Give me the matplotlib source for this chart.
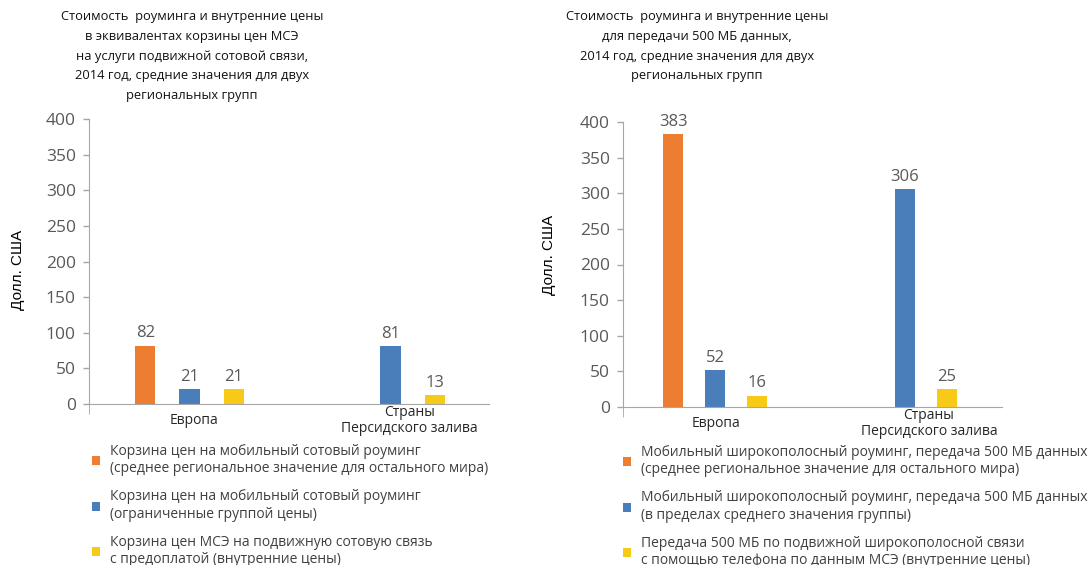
import numpy as np
import matplotlib.pyplot as plt

plt.rcParams['font.family'] = ['Open Sans', 'DejaVu Sans']

groups = ['Европа', 'Страны\nПерсидского залива']

# левый график: корзины цен на сотовую связь
voice_rest = [82, np.nan]
voice_group = [21, 81]
voice_domestic = [21, 13]

# правый график: 500 МБ данных
data_rest = [383, np.nan]
data_group = [52, 306]
data_domestic = [16, 25]

voice_labels = [
    'Корзина цен на мобильный сотовый роуминг\n(среднее региональное значение для остального мира)',
    'Корзина цен на мобильный сотовый роуминг\n(ограниченные группой цены)',
    'Корзина цен МСЭ на подвижную сотовую связь\nс предоплатой (внутренние цены)',
]
data_labels = [
    'Мобильный широкополосный роуминг, передача 500 МБ данных\n(среднее региональное значение для остального мира)',
    'Мобильный широкополосный роуминг, передача 500 МБ данных\n(в пределах среднего значения группы)',
    'Передача 500 МБ по подвижной широкополосной связи\nс помощью телефона по данным МСЭ (внутренние цены)',
]

voice_title = ('Стоимость  роуминга и внутренние цены\nв эквивалентах корзины цен МСЭ\n'
               'на услуги подвижной сотовой связи,\n2014 год, средние значения для двух\nрегиональных групп')
data_title = ('Стоимость  роуминга и внутренние цены\nдля передачи 500 МБ данных,\n'
              '2014 год, средние значения для двух\nрегиональных групп')

colors = ['#ED7D31', '#4A7EBB', '#F7CA18']
axis_gray = '#A6A6A6'
W, H = 1088, 565

fig = plt.figure(figsize=(W / 100, H / 100), dpi=100)


def panel(rect, series, labels, title, title_xy, ylab_xy, xlim, label_shift, leg_xy, width):
    l, t, r, b = rect
    ax = fig.add_axes([l / W, 1 - b / H, (r - l) / W, (b - t) / H])
    x = np.arange(len(groups))
    offs = [-0.22, 0, 0.22]
    for vals, off, c, lab in zip(series, offs, colors, labels):
        ax.bar(x + off, vals, width=width, color=c, label=lab)
        for bx, v in zip(x + off, vals):
            if not np.isnan(v):
                ax.annotate(f'{v:g}', (bx, v), xytext=(0, 3), textcoords='offset points',
                            ha='center', va='bottom', fontsize=12, color='#595959')
    ax.set_ylim(0, 400)
    ax.set_xlim(*xlim)
    ax.set_yticks(range(0, 401, 50))
    ax.tick_params(axis='y', colors=axis_gray, labelcolor='#595959', labelsize=12.5,
                   length=4.5, width=1, pad=5)
    ax.set_xticks(x + np.array(label_shift))
    ax.set_xticklabels(groups, fontsize=10, color='#262626', linespacing=1.1, va='center')
    ax.tick_params(axis='x', length=0, pad=12)
    ax.set_xticks([xlim[0]], minor=True)
    ax.tick_params(axis='x', which='minor', length=7, color=axis_gray)
    for s in ['top', 'right']:
        ax.spines[s].set_visible(False)
    for s in ['left', 'bottom']:
        ax.spines[s].set_color(axis_gray)
    fig.text(title_xy[0] / W, 1 - title_xy[1] / H, title, ha='center', va='top',
             fontsize=9.3, linespacing=1.68, color='#111111')
    fig.text(ylab_xy[0] / W, 1 - ylab_xy[1] / H, 'Долл. США', rotation=90,
             ha='center', va='center', fontsize=11, family=['Liberation Sans', 'DejaVu Sans'])
    ax.legend(loc='upper left', bbox_to_anchor=(leg_xy[0] / W, 1 - leg_xy[1] / H),
              bbox_transform=fig.transFigure, frameon=False, fontsize=10,
              handlelength=0.6, handleheight=0.6, handletextpad=0.7,
              labelspacing=0.95, labelcolor='#404040', borderaxespad=0, borderpad=0)
    return ax


panel((89, 119, 489, 404), [voice_rest, voice_group, voice_domestic], voice_labels,
      voice_title, (192, 10), (18, 270), (-0.5, 1.49), [0.02, 0.095], (92, 444), 0.1)
panel((623, 122, 1002, 407), [data_rest, data_group, data_domestic], data_labels,
      data_title, (697, 10), (549, 255), (-0.485, 1.51), [0.005, 0.126], (623, 445), 0.105)

fig.savefig('out.png', dpi=100)
